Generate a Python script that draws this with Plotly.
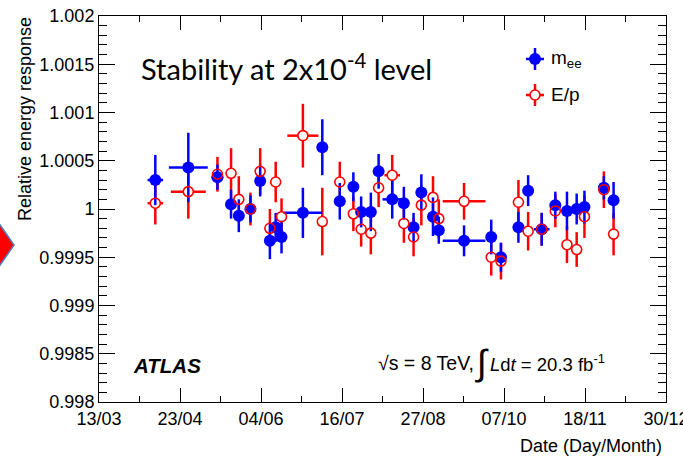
import plotly.graph_objects as go
import pandas as pd

# ---------------- data ----------------
dates = ["2012-04-11", "2012-04-28", "2012-05-13", "2012-05-20", "2012-05-24", "2012-05-30",
         "2012-06-04", "2012-06-09", "2012-06-12", "2012-06-15", "2012-06-26", "2012-07-06",
         "2012-07-15", "2012-07-22", "2012-07-26", "2012-07-31", "2012-08-04", "2012-08-11",
         "2012-08-17", "2012-08-22", "2012-08-26", "2012-09-01", "2012-09-04", "2012-09-17",
         "2012-10-01", "2012-10-06", "2012-10-15", "2012-10-20", "2012-10-27", "2012-11-03",
         "2012-11-09", "2012-11-14", "2012-11-18", "2012-11-28", "2012-12-03"]

mee = [1.00030, 1.00043, 1.00033, 1.00005, 0.99993, 1.00000, 1.00029, 0.99967, 0.99981,
       0.99971, 0.99996, 1.00064, 1.00008, 1.00023, 0.99997, 0.99997, 1.00039, 1.00010,
       1.00006, 0.99981, 1.00017, 0.99992, 0.99978, 0.99967, 0.99971, 0.99950, 0.99981,
       1.00019, 0.99979, 1.00004, 0.99998, 1.00000, 1.00002, 1.00022, 1.00009]
mee_err = [2.6, 3.6, 1.3, 1.5, 1.7, 1.4, 1.6, 1.9, 1.5, 1.7, 2.6, 2.9, 1.9, 1.5, 1.6, 2.0,
           1.8, 2.0, 1.7, 1.5, 1.9, 2.0, 1.4, 1.6, 1.8, 1.5, 1.6, 1.6, 1.7, 1.4, 2.0, 1.6,
           1.7, 1.2, 1.9]  # units of 1e-4
mee_xerr = [4, 10, 3, 0, 0, 0, 0, 0, 0, 0, 10, 0, 0, 0, 0, 0, 0, 5, 0, 0, 0, 0, 0, 11,
            0, 0, 0, 0, 4, 0, 0, 0, 0, 3, 0]  # days

ep = [1.00006, 1.00018, 1.00036, 1.00037, 1.00010, 1.00000, 1.00039, 0.99980, 1.00028,
      0.99992, 1.00076, 0.99987, 1.00028, 0.99995, 0.99979, 0.99975, 1.00022, 1.00035,
      0.99985, 0.99971, 1.00004, 1.00012, 0.99990, 1.00008, 0.99950, 0.99946, 1.00007,
      0.99977, 0.99979, 0.99998, 0.99963, 0.99958, 0.99992, 1.00020, 0.99974]
ep_err = [2.2, 2.8, 1.8, 2.6, 2.4, 1.7, 2.4, 2.0, 2.1, 1.9, 3.3, 3.5, 2.1, 1.8, 1.8, 2.2,
          2.0, 2.1, 2.0, 2.0, 2.1, 2.2, 2.0, 1.9, 1.9, 1.9, 2.3, 2.0, 1.7, 1.7, 1.9, 1.8,
          2.2, 1.9, 2.2]  # units of 1e-4
ep_xerr = [4, 9, 2.5, 0, 0, 0, 0, 0, 0, 0, 8, 0, 0, 0, 0, 0, 0, 4, 0, 0, 0, 0, 0, 11,
           0, 0, 0, 0, 3, 0, 0, 0, 0, 3, 0]  # days

x_start, x_end = "2012-03-13", "2012-12-30"
x_ticktext = ["13/03", "23/04", "04/06", "16/07", "27/08", "07/10", "18/11", "30/12"]
y_tickvals = [0.998, 0.9985, 0.999, 0.9995, 1.0, 1.0005, 1.001, 1.0015, 1.002]
y_ticktext = ["0.998", "0.9985", "0.999", "0.9995", "1", "1.0005", "1.001", "1.0015", "1.002"]

# ---------------- scales ----------------
t0 = pd.Timestamp(x_start)
span = (pd.Timestamp(x_end) - t0).days
xdays = [(pd.Timestamp(d) - t0).days for d in dates]
n_int = len(x_ticktext) - 1
x_major = [span * i / n_int for i in range(n_int + 1)]
x_minor = [span * i / (2 * n_int) for i in range(2 * n_int + 1)]

# ---------------- layout helpers ----------------
W, H = 683, 460
L, R, T, B = 99, 666, 16, 402
def px(x): return (x - L) / (R - L)
def py(y): return (B - y) / (B - T)

FONT = "Liberation Sans, Arial, Helvetica, sans-serif"

fig = go.Figure()

# red error bars, with a white disc hiding the bar inside each open marker
fig.add_trace(go.Scatter(
    x=xdays, y=ep, mode="markers",
    marker=dict(symbol="circle", size=10, color="white"),
    error_y=dict(type="data", array=[e * 1e-4 for e in ep_err], color="#ff0000", thickness=2.5, width=0),
    error_x=dict(type="data", array=ep_xerr, color="#ff0000", thickness=2.5, width=0),
    showlegend=False, hoverinfo="skip"))

# m_ee
fig.add_trace(go.Scatter(
    x=xdays, y=mee, mode="markers", name="m_ee",
    marker=dict(symbol="circle", size=12, color="#0000ff"),
    error_y=dict(type="data", array=[e * 1e-4 for e in mee_err], color="#0000ff", thickness=2.5, width=0),
    error_x=dict(type="data", array=mee_xerr, color="#0000ff", thickness=2.5, width=0),
    showlegend=False))

# E/p open markers on top
fig.add_trace(go.Scatter(
    x=xdays, y=ep, mode="markers", name="E/p",
    marker=dict(symbol="circle-open", size=10, color="#ff0000", line=dict(width=1.6, color="#ff0000")),
    showlegend=False))

# hand-drawn legend samples on an overlay axis in plot-fraction units
leg_x = px(535)
leg_y = [py(59), py(95)]
leg_dx, leg_dy = 9 / (R - L), 11 / (B - T)
fig.add_trace(go.Scatter(
    x=[leg_x], y=[leg_y[0]], xaxis="x2", yaxis="y2", mode="markers",
    marker=dict(symbol="circle", size=12, color="#0000ff"),
    error_x=dict(type="constant", value=leg_dx, color="#0000ff", thickness=2.5, width=0),
    error_y=dict(type="constant", value=leg_dy, color="#0000ff", thickness=2.5, width=0),
    showlegend=False, hoverinfo="skip"))
fig.add_trace(go.Scatter(
    x=[leg_x], y=[leg_y[1]], xaxis="x2", yaxis="y2", mode="markers",
    marker=dict(symbol="circle", size=10, color="white"),
    error_x=dict(type="constant", value=leg_dx, color="#ff0000", thickness=2.5, width=0),
    error_y=dict(type="constant", value=leg_dy, color="#ff0000", thickness=2.5, width=0),
    showlegend=False, hoverinfo="skip"))
fig.add_trace(go.Scatter(
    x=[leg_x], y=[leg_y[1]], xaxis="x2", yaxis="y2", mode="markers",
    marker=dict(symbol="circle-open", size=10, color="#ff0000", line=dict(width=1.6, color="#ff0000")),
    showlegend=False, hoverinfo="skip"))

axis_common = dict(showgrid=False, zeroline=False, showline=True, linecolor="black", linewidth=1,
                   mirror="ticks", ticks="inside", tickcolor="black", tickwidth=1, automargin=False,
                   ticklabeloverflow="allow",
                   tickfont=dict(family=FONT, size=18, color="black"))

fig.update_layout(
    template="none",
    width=W, height=H,
    margin=dict(l=L, r=W - R, t=T, b=H - B, pad=0),
    paper_bgcolor="white", plot_bgcolor="white",
    showlegend=False,
    xaxis=dict(range=[0, span], tickmode="array", tickvals=x_major, ticktext=x_ticktext, ticklen=14,
               minor=dict(tickmode="array", tickvals=x_minor, ticks="inside", ticklen=6,
                          tickcolor="black", showgrid=False),
               **axis_common),
    yaxis=dict(range=[0.998, 1.002], tickmode="array", tickvals=y_tickvals, ticktext=y_ticktext,
               ticklen=16,
               minor=dict(dtick=0.0001, tick0=0.998, ticks="inside", ticklen=8, tickcolor="black",
                          showgrid=False),
               **axis_common),
    xaxis2=dict(overlaying="x", range=[0, 1], visible=False, anchor="y2", automargin=False),
    yaxis2=dict(overlaying="y", range=[0, 1], visible=False, anchor="x2", automargin=False),
)

ann = []
ann.append(dict(text="Relative energy response", textangle=-90, x=px(25), y=py(15),
                xanchor="center", yanchor="top", font=dict(family=FONT, size=18, color="black")))
ann.append(dict(text="Date (Day/Month)", x=px(664), y=py(446), xanchor="right", yanchor="middle",
                font=dict(family=FONT, size=18, color="black")))
ann.append(dict(text="Stability at 2x10<sup>-4</sup> level", x=px(139), y=py(67), xanchor="left",
                yanchor="middle", font=dict(family="Lato, Carlito, sans-serif", size=29, color="black")))
ann.append(dict(text="m<sub>ee</sub>", x=px(549), y=py(59), xanchor="left", yanchor="middle",
                font=dict(family=FONT, size=19, color="black")))
ann.append(dict(text="E/p", x=px(549), y=py(95), xanchor="left", yanchor="middle",
                font=dict(family=FONT, size=19, color="black")))
ann.append(dict(text="<b><i>ATLAS</i></b>", x=px(131), y=py(365), xanchor="left", yanchor="middle",
                font=dict(family=FONT, size=20.5, color="black")))
ann.append(dict(text="√s = 8 TeV,", x=px(476), y=py(363), xanchor="right", yanchor="middle",
                font=dict(family=FONT, size=19.5, color="black")))
ann.append(dict(text="∫", x=px(482), y=py(362), xanchor="center", yanchor="middle",
                font=dict(family=FONT, size=36, color="black")))
ann.append(dict(text="<i>L</i>d<i>t</i> = 20.3 fb<sup>-1</sup>", x=px(488), y=py(363),
                xanchor="left", yanchor="middle", font=dict(family=FONT, size=18.5, color="black")))
for a in ann:
    a.update(xref="paper", yref="paper", showarrow=False)
fig.update_layout(annotations=ann)

# slide arrow fragment at the left edge
pts = [(-2, 222), (14, 245), (-2, 268)]
path = "M " + " L ".join(f"{px(a):.4f},{py(b):.4f}" for a, b in pts) + " Z"
fig.add_shape(type="path", path=path, xref="paper", yref="paper",
              fillcolor="#ff0000", line=dict(color="#4a7ebb", width=1.5), layer="above")

fig.write_html("out.html", config={"displayModeBar": False},
               post_script="document.body.style.margin='0px';document.body.style.padding='0px';")
